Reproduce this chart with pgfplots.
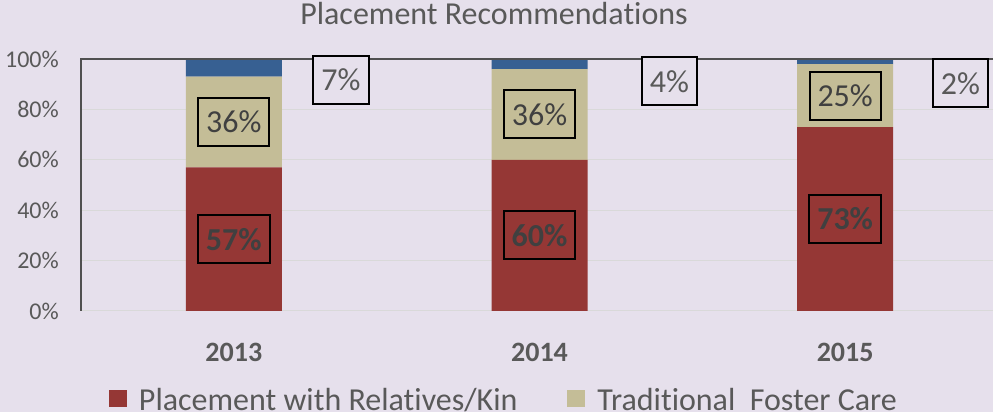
\documentclass[border=0pt]{standalone}
\usepackage{fontspec}
\setmainfont{Carlito}[Ligatures={NoCommon}]
\usepackage{pgfplots}
\pgfplotsset{compat=1.18}
\definecolor{bg}{HTML}{E6E0EC}
\definecolor{txt}{HTML}{595959}
\definecolor{labtxt}{HTML}{404040}
\definecolor{gridc}{HTML}{D9D9D9}
\definecolor{axc}{HTML}{505050}
\definecolor{cred}{HTML}{953735}
\definecolor{ctan}{HTML}{C4BD97}
\definecolor{cblue}{HTML}{376092}
\tikzset{lab/.style={draw=black, line width=2pt, minimum height=48pt, inner xsep=8pt, inner ysep=0pt, text=labtxt, font=\fontsize{32}{36}\selectfont}}
\begin{document}
\begin{tikzpicture}[x=1pt,y=1pt]
\useasboundingbox (0,0) rectangle (993,412);
\clip (0,0) rectangle (993,412);
\fill[bg] (0,0) rectangle (993,412);
\node[anchor=base, inner sep=0pt, font=\fontsize{32}{36}\selectfont, text=txt] at (494,387) {Placement Recommendations};
\begin{axis}[
  at={(81pt,101pt)}, anchor=south west,
  scale only axis, width=917pt, height=252pt,
  xmin=-0.5, xmax=2.5, ymin=0, ymax=100,
  ybar stacked, bar width=96pt,
  axis line style={draw=none},
  major tick length=0pt,
  ytick={0,20,40,60,80,100}, yticklabels={0\%,20\%,40\%,60\%,80\%,100\%},
  xtick={0,1,2}, xticklabels={2013,2014,2015},
  ymajorgrids, grid style={gridc, line width=1pt},
  yticklabel style={font=\fontsize{24}{28}\selectfont, text=txt, inner sep=0pt, xshift=-22pt},
  xticklabel style={font=\bfseries\fontsize{28}{32}\selectfont, text=txt, inner sep=0pt, yshift=-32pt},
  clip=false,
  legend columns=2,
  legend image code/.code={\fill[#1, draw=none] (0pt,-7pt) rectangle (18pt,10pt);},
  legend style={draw=none, fill=none, inner sep=0pt, outer sep=0pt,
    at={(0.0305,-0.353)}, anchor=west,
    font=\fontsize{32}{36}\selectfont, text=txt,
    /tikz/every odd column/.append style={column sep=10pt},
    /tikz/every even column/.append style={column sep=48pt}},
]
\addplot[fill=cred, draw=none] coordinates {(0,57) (1,60) (2,73)};
\addplot[fill=ctan, draw=none] coordinates {(0,36) (1,36) (2,25)};
\addplot[fill=cblue, draw=none, forget plot] coordinates {(0,7) (1,4) (2,2)};
\legend{Placement with Relatives/Kin, Traditional\ \ Foster Care}
\coordinate (ax0) at (rel axis cs:0,0);
\coordinate (ax1) at (rel axis cs:0,1);
\coordinate (ax2) at (rel axis cs:1.02,1);
\coordinate (r0) at (axis cs:0,28.5);
\coordinate (r1) at (axis cs:1,30);
\coordinate (r2) at (axis cs:2,36.5);
\coordinate (t0) at (axis cs:0,75);
\coordinate (t1) at (axis cs:1,78);
\coordinate (t2) at (axis cs:2,85.5);
\coordinate (b0) at (axis cs:0.3506,91.67);
\coordinate (b1) at (axis cs:1.4253,91.07);
\coordinate (b2) at (axis cs:2.377,90.28);
\end{axis}
\draw[axc, line width=1.5pt] (ax0) -- (ax1) -- (ax2);
\node[lab, font=\bfseries\fontsize{32}{36}\selectfont] at (r0) {57\%};
\node[lab, font=\bfseries\fontsize{32}{36}\selectfont] at (r1) {60\%};
\node[lab, font=\bfseries\fontsize{32}{36}\selectfont] at (r2) {73\%};
\node[lab] at (t0) {36\%};
\node[lab] at (t1) {36\%};
\node[lab] at (t2) {25\%};
\node[lab, fill=bg, text=txt] at (b0) {7\%};
\node[lab, fill=bg, text=txt] at (b1) {4\%};
\node[lab, fill=bg, text=txt] at (b2) {2\%};
\end{tikzpicture}
\end{document}
